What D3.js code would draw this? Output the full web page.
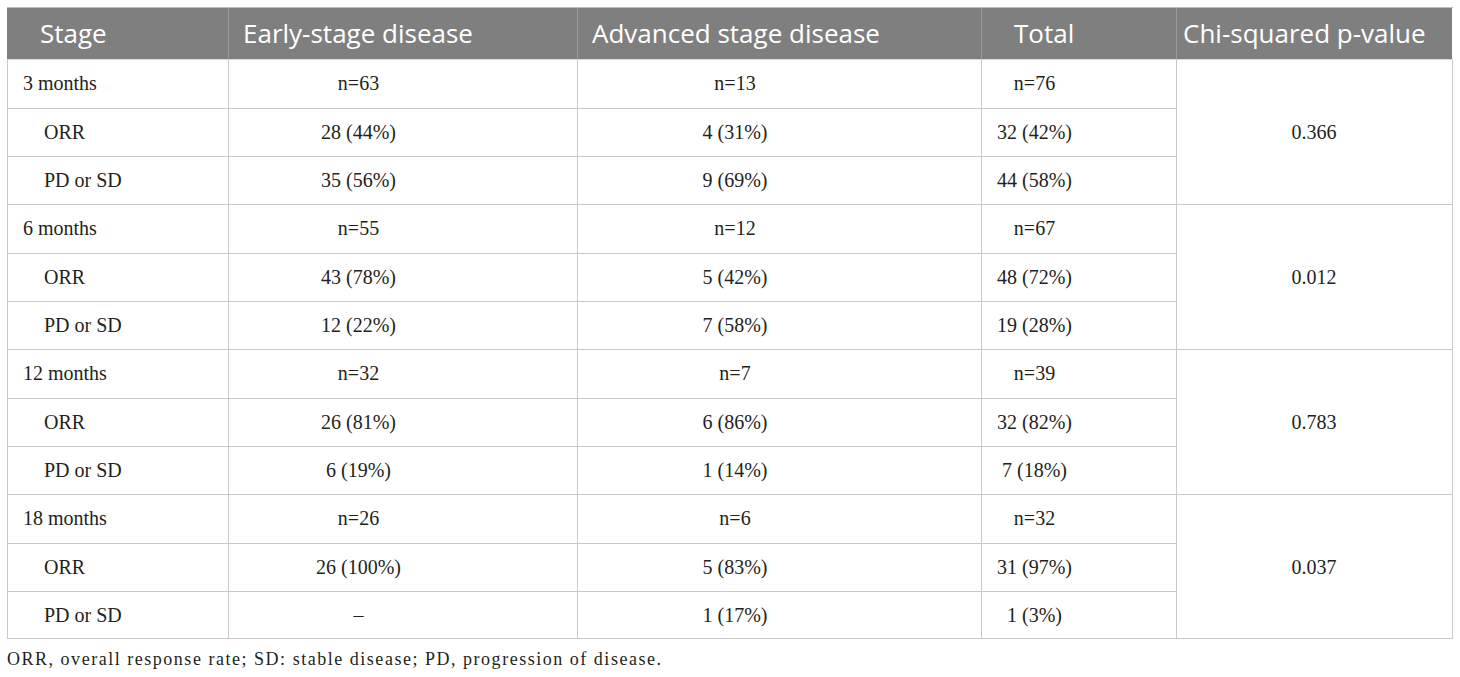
<!DOCTYPE html>
<html>
<head>
<meta charset="utf-8">
<script src="https://cdn.jsdelivr.net/npm/d3@7"></script>
<style>
  body { margin: 0; background: #fff; }
  svg { display: block; }
</style>
</head>
<body>
<svg id="chart" width="1460" height="677" viewBox="0 0 1460 677"></svg>
<script>
const headers = ["Stage", "Early-stage disease", "Advanced stage disease", "Total", "Chi-squared p-value"]
const timepoints = ["3 months", "6 months", "12 months", "18 months"]
const subRows = ["ORR", "PD or SD"]

const earlyN = [63, 55, 32, 26]
const advancedN = [13, 12, 7, 6]
const totalN = [76, 67, 39, 32]

const earlyORR = [28, 43, 26, 26]
const earlyORRPct = [44, 78, 81, 100]
const earlyPD = [35, 12, 6, null]
const earlyPDPct = [56, 22, 19, null]

const advancedORR = [4, 5, 6, 5]
const advancedORRPct = [31, 42, 86, 83]
const advancedPD = [9, 7, 1, 1]
const advancedPDPct = [69, 58, 14, 17]

const totalORR = [32, 48, 32, 31]
const totalORRPct = [42, 72, 82, 97]
const totalPD = [44, 19, 7, 1]
const totalPDPct = [58, 28, 18, 3]

const pValues = ["0.366", "0.012", "0.783", "0.037"]

const footnote = "ORR, overall response rate; SD: stable disease; PD, progression of disease."

// ---- layout ----
const svg = d3.select("#chart")
const colEdges = [7, 228, 577, 981, 1176, 1452]
const headerX = [40, 243, 592, 1014, 1183]
const headTop = 7.5, headBottom = 59.3, tableBottom = 639.3
const nRows = timepoints.length * 3

const y = d3.scaleLinear().domain([0, nRows]).range([headBottom, tableBottom])
const colCenter = i => i === 4 ? (colEdges[4] + colEdges[5]) / 2 : (colEdges[i] + colEdges[i + 1]) / 2 - 44

const lineColor = "#c9c9c9"
const serif = "'Liberation Serif', 'Times New Roman', serif"
const sans = "'Open Sans', 'Noto Sans', sans-serif"

const fmt = (c, p) => c == null ? "\u2013" : `${c} (${p}%)`

// build body rows from the arrays
const rows = []
timepoints.forEach((t, g) => {
    rows.push({label: t, indent: false, cells: [`n=${earlyN[g]}`, `n=${advancedN[g]}`, `n=${totalN[g]}`]})
    rows.push({label: subRows[0], indent: true,
        cells: [fmt(earlyORR[g], earlyORRPct[g]), fmt(advancedORR[g], advancedORRPct[g]), fmt(totalORR[g], totalORRPct[g])]})
    rows.push({label: subRows[1], indent: true,
        cells: [fmt(earlyPD[g], earlyPDPct[g]), fmt(advancedPD[g], advancedPDPct[g]), fmt(totalPD[g], totalPDPct[g])]})
})

// header band
svg.append("rect")
    .attr("x", colEdges[0]).attr("y", headTop)
    .attr("width", colEdges[5] - colEdges[0]).attr("height", headBottom - headTop)
    .attr("fill", "#7f7f7f")

svg.append("g").selectAll("line")
    .data(colEdges.slice(1, 5))
    .join("line")
    .attr("x1", d => d + 0.5).attr("x2", d => d + 0.5)
    .attr("y1", headTop).attr("y2", headBottom)
    .attr("stroke", "#9a9a9a")

svg.append("g").selectAll("text")
    .data(headers)
    .join("text")
    .attr("x", (d, i) => headerX[i])
    .attr("y", 43)
    .attr("fill", "#fff")
    .style("font-family", sans)
    .style("font-size", "26px")
    .text(d => d)

// horizontal grid lines
const hLines = d3.range(1, nRows).map(i => ({i, full: i % 3 === 0}))
svg.append("g").selectAll("line")
    .data(hLines)
    .join("line")
    .attr("x1", colEdges[0])
    .attr("x2", d => d.full ? colEdges[5] : colEdges[4])
    .attr("y1", d => Math.round(y(d.i)) + 0.5)
    .attr("y2", d => Math.round(y(d.i)) + 0.5)
    .attr("stroke", lineColor)

svg.append("line")
    .attr("x1", colEdges[0]).attr("x2", colEdges[5] + 1)
    .attr("y1", Math.round(tableBottom) - 0.5).attr("y2", Math.round(tableBottom) - 0.5)
    .attr("stroke", lineColor)
svg.append("line")
    .attr("x1", colEdges[0]).attr("x2", colEdges[5] + 1)
    .attr("y1", headTop).attr("y2", headTop)
    .attr("stroke", "#bdbdbd")

// vertical grid lines in the body
svg.append("g").selectAll("line")
    .data(colEdges)
    .join("line")
    .attr("x1", d => d + 0.5).attr("x2", d => d + 0.5)
    .attr("y1", headBottom).attr("y2", Math.round(tableBottom))
    .attr("stroke", lineColor)

// body text
const body = svg.append("g")
    .style("font-family", serif)
    .style("font-size", "20px")
    .attr("fill", "#231f20")

const rowG = body.selectAll("g.row")
    .data(rows)
    .join("g")
    .attr("class", "row")
    .attr("transform", (d, i) => `translate(0,${(y(i) + y(i + 1)) / 2 + 7})`)

rowG.append("text")
    .attr("x", d => d.indent ? 44 : 23)
    .text(d => d.label)

rowG.selectAll("text.cell")
    .data(d => d.cells)
    .join("text")
    .attr("class", "cell")
    .attr("x", (d, i) => colCenter(i + 1))
    .attr("text-anchor", "middle")
    .text(d => d)

body.selectAll("text.p")
    .data(pValues)
    .join("text")
    .attr("class", "p")
    .attr("x", colCenter(4))
    .attr("y", (d, g) => (y(g * 3) + y(g * 3 + 3)) / 2 + 7)
    .attr("text-anchor", "middle")
    .text(d => d)

// footnote
svg.append("text")
    .attr("x", 7).attr("y", 665)
    .attr("fill", "#231f20")
    .attr("textLength", 654)
    .attr("lengthAdjust", "spacing")
    .style("font-family", serif)
    .style("font-size", "18px")
    .text(footnote)
</script>
</body>
</html>
